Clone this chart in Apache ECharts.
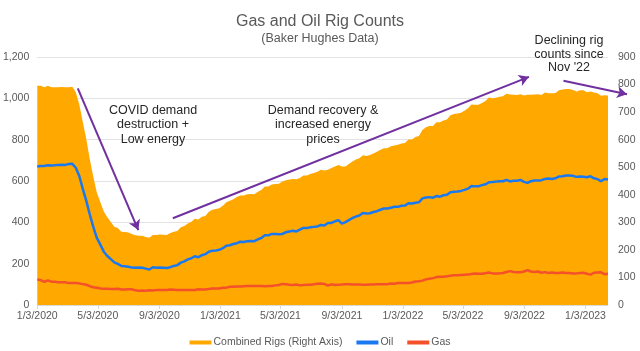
<!DOCTYPE html>
<html>
<head>
    <meta charset="utf-8">
    <script src="https://cdn.jsdelivr.net/npm/echarts@6/dist/echarts.min.js"></script>
</head>
<body style="margin:0">
    <div id="main" style="width:640px;height:351px;"></div>
</body>
<script type="text/javascript">
    // weekly Baker Hughes counts, first Friday 1/3/2020, last 2/17/2023
    var firstWeek = [2020, 1, 3];
    var lastWeek = [2023, 2, 17];

    var oilRigs = [
        670, 673, 673, 676, 675, 676, 678, 679, 678, 682, 683, 664, 624,
        562, 504, 438, 378, 325, 292, 258, 237, 222, 206, 199, 189, 188,
        185, 181, 180, 181, 180, 176, 172, 183, 180, 181, 180, 179, 183,
        189, 193, 205, 211, 221, 226, 236, 231, 241, 246, 258, 263, 264,
        267, 275, 287, 289, 295, 299, 306, 305, 309, 310, 309, 318, 324,
        337, 337, 344, 343, 342, 344, 352, 356, 359, 356, 365, 373, 372,
        376, 378, 380, 387, 385, 397, 397, 405, 410, 394, 401, 411, 421,
        428, 433, 445, 443, 444, 450, 454, 461, 467, 467, 471, 475, 475, 480,
        481, 492, 491, 495, 497, 516, 520, 522, 519, 527, 524, 531,
        533, 546, 548, 549, 552, 557, 563, 576, 574, 574, 580, 584, 594,
        595, 597, 599, 599, 605, 598, 601, 601, 605, 596, 591, 599, 602, 602,
        604, 610, 612, 610, 613, 622, 623, 627, 627, 625, 620, 622, 621,
        618, 623, 613, 609, 599, 610, 607
    ];

    var gasRigs = [
        124, 120, 112, 119, 113, 112, 110, 110, 110, 106, 107, 107, 104,
        101, 98, 91, 86, 83, 80, 79, 79, 78, 77, 79, 75, 75,
        76, 76, 71, 69, 70, 69, 71, 70, 72, 73, 72, 73, 75,
        74, 73, 73, 73, 73, 73, 73, 76, 75, 75, 77, 80, 80,
        80, 83, 84, 88, 88, 90, 90, 91, 92, 92, 92, 92, 92,
        91, 92, 92, 95, 97, 102, 100, 98, 97, 99, 95, 97, 98,
        98, 100, 103, 104, 102, 94, 100, 97, 98, 99, 101, 100, 99,
        99, 99, 98, 98, 99, 99, 101, 101, 101, 101, 104, 103, 106, 106,
        107, 107, 109, 114, 115, 118, 124, 127, 130, 135, 137, 137,
        139, 142, 144, 144, 145, 146, 147, 150, 152, 151, 151, 154, 157,
        153, 153, 153, 155, 160, 164, 160, 159, 158, 162, 169, 162, 160, 162,
        156, 159, 155, 157, 155, 155, 157, 155, 155, 152, 153, 155, 156,
        151, 147, 156, 157, 158, 149, 151
    ];

    // total rigs, plotted against the right axis
    var combinedRigs = [
        796, 796, 790, 796, 790, 790, 790, 791, 790, 790, 792, 772, 728,
        664, 602, 529, 465, 408, 374, 339, 318, 301, 284, 279, 266, 265,
        263, 258, 253, 251, 251, 247, 244, 254, 254, 256, 255, 254, 261,
        266, 269, 282, 287, 296, 302, 313, 310, 320, 323, 338, 346, 348,
        351, 360, 373, 378, 384, 392, 397, 397, 402, 403, 402, 411, 417,
        430, 430, 437, 439, 440, 448, 453, 455, 457, 456, 461, 470, 470,
        475, 479, 484, 491, 488, 491, 497, 503, 508, 503, 503, 512, 521,
        528, 533, 543, 541, 544, 550, 556, 563, 569, 569, 576, 579, 582, 586,
        588, 601, 601, 610, 613, 635, 645, 650, 650, 663, 663, 670,
        673, 689, 693, 695, 698, 705, 714, 728, 727, 727, 733, 740, 753,
        750, 752, 756, 758, 767, 764, 763, 762, 765, 760, 763, 763, 764, 765,
        762, 771, 768, 768, 769, 779, 782, 784, 784, 780, 775, 779, 779,
        772, 775, 771, 768, 759, 761, 760
    ];

    var tickDates = [
        [2020, 1, 3], [2020, 5, 3], [2020, 9, 3],
        [2021, 1, 3], [2021, 5, 3], [2021, 9, 3],
        [2022, 1, 3], [2022, 5, 3], [2022, 9, 3],
        [2023, 1, 3]
    ];

    // arrows: [from date, from value, to date, to value] on right axis
    var arrows = [
        [[2020, 3, 24], 786, [2020, 7, 23], 272],
        [[2020, 9, 30], 315, [2022, 9, 12], 828],
        [[2022, 11, 20], 814, [2023, 3, 27], 765]
    ];

    // x axis runs in days counted from the first week
    var DAY = 86400000;
    var origin = Date.UTC(firstWeek[0], firstWeek[1] - 1, firstWeek[2]);
    function dayOf(d) { return Math.round((Date.UTC(d[0], d[1] - 1, d[2]) - origin) / DAY); }
    function weekly(arr) {
        return arr.map(function (v, i) { return [i * 7, v]; });
    }

    var tickValues = tickDates.map(dayOf);
    var font = 'Liberation Sans';
    var grey = '#595959';

    var myChart = echarts.init(document.getElementById('main'));

    myChart.setOption({
        animation: false,
        backgroundColor: '#fff',
        title: {
            text: 'Gas and Oil Rig Counts',
            subtext: '(Baker Hughes Data)',
            left: 'center',
            top: 9,
            itemGap: 2,
            textStyle: { fontFamily: font, fontSize: 16, fontWeight: 'normal', color: grey },
            subtextStyle: { fontFamily: font, fontSize: 12.5, color: grey }
        },
        legend: {
            top: 332,
            left: 'center',
            itemWidth: 22,
            itemHeight: 4,
            itemGap: 14,
            icon: 'rect',
            textStyle: { fontFamily: font, fontSize: 10.5, color: grey, padding: [0, 0, 0, -3] },
            data: ['Combined Rigs (Right Axis)', 'Oil', 'Gas']
        },
        grid: { left: 37, right: 32, top: 57, bottom: 46 },
        xAxis: {
            type: 'value',
            min: 0,
            max: dayOf(lastWeek),
            axisLine: { lineStyle: { color: '#d9d9d9' } },
            axisTick: { show: true, customValues: tickValues, length: 4, lineStyle: { color: '#d9d9d9' } },
            splitLine: { show: false },
            axisLabel: {
                customValues: tickValues,
                fontFamily: font,
                fontSize: 10.5,
                color: grey,
                margin: 6,
                formatter: function (v) {
                    var d = new Date(origin + v * DAY);
                    return (d.getUTCMonth() + 1) + '/' + d.getUTCDate() + '/' + d.getUTCFullYear();
                }
            }
        },
        yAxis: [{
            type: 'value',
            min: 0, max: 1200, interval: 200,
            axisLine: { show: false },
            axisTick: { show: false },
            splitLine: { lineStyle: { color: '#e3e3e3' } },
            axisLabel: {
                fontFamily: font, fontSize: 10.5, color: grey, margin: 8,
                formatter: function (v) { return v.toLocaleString('en-US'); }
            }
        }, {
            type: 'value',
            min: 0, max: 900, interval: 100,
            axisLine: { show: false },
            axisTick: { show: false },
            splitLine: { show: false },
            axisLabel: { fontFamily: font, fontSize: 10.5, color: grey, margin: 10 }
        }],
        series: [{
            name: 'Combined Rigs (Right Axis)',
            type: 'line',
            yAxisIndex: 1,
            symbol: 'none',
            itemStyle: { color: '#FFA800' },
            lineStyle: { width: 0 },
            areaStyle: { color: '#FFA800', opacity: 1 },
            data: weekly(combinedRigs)
        }, {
            name: 'Oil',
            type: 'line',
            symbol: 'none',
            itemStyle: { color: '#1A78F0' },
            lineStyle: { width: 2.5, color: '#1A78F0' },
            data: weekly(oilRigs)
        }, {
            name: 'Gas',
            type: 'line',
            symbol: 'none',
            itemStyle: { color: '#F4502A' },
            lineStyle: { width: 2.5, color: '#F4502A' },
            data: weekly(gasRigs)
        }],
        graphic: [{
            type: 'text', x: 153, y: 103, z: 100,
            style: {
                text: 'COVID demand\ndestruction +\nLow energy',
                align: 'center',
                font: '12.5px Liberation Sans', lineHeight: 14.5, fill: '#262626'
            }
        }, {
            type: 'text', x: 323, y: 103, z: 100,
            style: {
                text: 'Demand recovery &\nincreased energy\nprices',
                align: 'center',
                font: '12.5px Liberation Sans', lineHeight: 14.5, fill: '#262626'
            }
        }, {
            type: 'text', x: 569, y: 34, z: 100,
            style: {
                text: 'Declining rig\ncounts since\nNov \'22',
                align: 'center',
                font: '12.5px Liberation Sans', lineHeight: 13.5, fill: '#262626'
            }
        }]
    });

    // arrow ends may fall past the x range, so pass them as pixels from the axes
    function toPx(d, v) {
        return myChart.convertToPixel({ xAxisIndex: 0, yAxisIndex: 1 }, [dayOf(d), v]);
    }
    myChart.setOption({
        series: [{
            name: 'Combined Rigs (Right Axis)',
            markLine: {
                silent: true,
                symbol: ['none', 'arrow'],
                symbolSize: [9, 10],
                label: { show: false },
                lineStyle: { color: '#7030A0', width: 2, type: 'solid' },
                data: arrows.map(function (a) {
                    var p0 = toPx(a[0], a[1]), p1 = toPx(a[2], a[3]);
                    return [{ x: p0[0], y: p0[1] }, { x: p1[0], y: p1[1] }];
                })
            }
        }]
    });
</script>
</html>
